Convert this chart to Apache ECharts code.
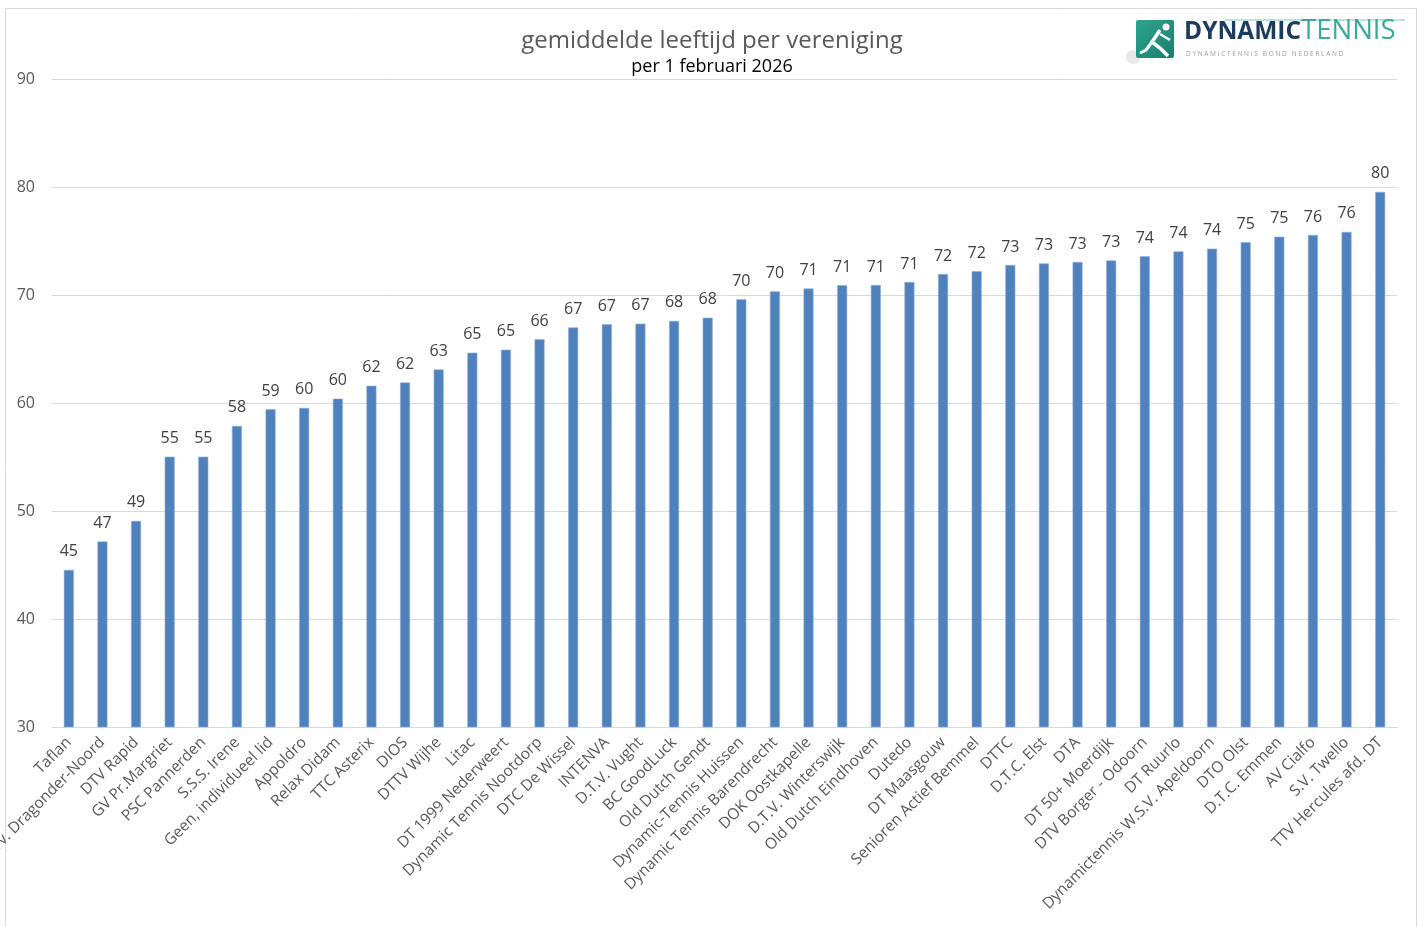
<!DOCTYPE html>
<html>
<head>
<meta charset="utf-8">
<script src="https://cdn.jsdelivr.net/npm/echarts@6/dist/echarts.min.js"></script>
<style>html,body{margin:0;padding:0;background:#fff}#c{width:1424px;height:927px}</style>
</head>
<body>
<div id="c"></div>
<script>
const categories = ["Taflan","Tv. Dragonder-Noord","DTV Rapid","GV Pr.Margriet","PSC Pannerden","S.S.S. Irene","Geen, individueel lid","Appoldro","Relax Didam","TTC Asterix","DIOS","DTTV Wijhe","Litac","DT 1999 Nederweert","Dynamic Tennis Nootdorp","DTC De Wissel","INTENVA","D.T.V. Vught","BC GoodLuck","Old Dutch Gendt","Dynamic-Tennis Huissen","Dynamic Tennis Barendrecht","DOK Oostkapelle","D.T.V. Winterswijk","Old Dutch Eindhoven","Dutedo","DT Maasgouw","Senioren Actief Bemmel","DTTC","D.T.C. Elst","DTA","DT 50+ Moerdijk","DTV Borger - Odoorn","DT Ruurlo","Dynamictennis W.S.V. Apeldoorn","DTO Olst","D.T.C. Emmen","AV Cialfo","S.V. Twello","TTV Hercules afd. DT"];
const avgAge = [44.55,47.18,49.08,55.03,55.03,57.88,59.42,59.55,60.4,61.6,61.9,63.1,64.66,64.94,65.9,67.0,67.3,67.35,67.6,67.9,69.6,70.34,70.6,70.9,70.93,71.2,71.94,72.2,72.78,72.93,73.06,73.2,73.6,74.04,74.29,74.9,75.4,75.56,75.84,79.55];
const yTicks = {min:30, max:90, interval:10};
const titleText = "gemiddelde leeftijd per vereniging";
const subtitleText = "per 1 februari 2026";

const chart = echarts.init(document.getElementById('c'), null, {renderer:'canvas'});
const FONT = '"Open Sans", "Liberation Sans", sans-serif';
chart.setOption({
  backgroundColor:'#fff',
  animation:false,
  title:{
    text:titleText, subtext:subtitleText,
    left:'center', top:24, itemGap:5,
    textStyle:{fontFamily:FONT,fontSize:24,fontWeight:'normal',color:'#595959'},
    subtextStyle:{fontFamily:FONT,fontSize:18,color:'#000'}
  },
  grid:{left:52,right:27,top:79,bottom:200,containLabel:false,outerBoundsMode:'none'},
  xAxis:{
    type:'category', data:categories,
    axisLine:{lineStyle:{color:'#d9d9d9',width:1}},
    axisTick:{show:false},
    axisLabel:{interval:0,rotate:45,margin:13,fontFamily:FONT,fontSize:15.5,color:'#595959'}
  },
  yAxis:{
    type:'value', min:yTicks.min, max:yTicks.max, interval:yTicks.interval,
    axisLine:{show:false}, axisTick:{show:false},
    axisLabel:{fontFamily:FONT,fontSize:16,color:'#595959',margin:17},
    splitLine:{lineStyle:{color:'#d9d9d9',width:1}}
  },
  series:[{
    type:'bar', data:avgAge, barWidth:10,
    itemStyle:{color:'#4f81bd',borderColor:'#8fb0da',borderWidth:0.6},
    label:{show:true,position:'top',distance:10,fontFamily:FONT,fontSize:16,color:'#404040',
      formatter:p=>Math.round(p.value)}
  }],
  graphic:[
    {type:'rect',shape:{x:5.5,y:8.5,width:1411,height:930},style:{fill:'none',stroke:'#d9d9d9',lineWidth:1},silent:true},
    {type:'line',shape:{x1:1225,y1:20,x2:1405,y2:20},style:{stroke:'#7cc7bb',lineWidth:1}},
    {type:'circle',shape:{cx:1133,cy:57,r:7},style:{fill:'#e8e8e8'}},
    {type:'rect',shape:{x:1136,y:20,width:38,height:38,r:2},style:{fill:new echarts.graphic.LinearGradient(0,0,1,1,[{offset:0,color:'#2ca58d'},{offset:1,color:'#1b7f6e'}])}},
    {type:'circle',shape:{cx:1166,cy:27,r:3.5},style:{fill:'#fff'}},
    {type:'polyline',shape:{points:[[1160,30],[1152,42],[1160,48],[1168,56]]},style:{stroke:'#fff',lineWidth:3.5,fill:null}},
    {type:'polyline',shape:{points:[[1152,42],[1146,50],[1140,53]]},style:{stroke:'#fff',lineWidth:3,fill:null}},
    {type:'polyline',shape:{points:[[1160,34],[1170,40]]},style:{stroke:'#fff',lineWidth:2.5,fill:null}},
    {type:'text',left:1184,top:20,style:{text:'DYNAMIC',fontFamily:FONT,fontSize:24.5,fontWeight:'bold',fill:'#1d3b5c'}},
    {type:'text',left:1301,top:17,style:{text:'TENNIS',fontFamily:FONT,fontSize:27.5,fontWeight:'normal',fill:'#3ba99a'}},
    {type:'text',left:1186,top:51,style:{text:'D Y N A M I C T E N N I S   B O N D   N E D E R L A N D',fontFamily:FONT,fontSize:6.5,fill:'#9a9a9a'}}
  ]
});
</script>
</body>
</html>
